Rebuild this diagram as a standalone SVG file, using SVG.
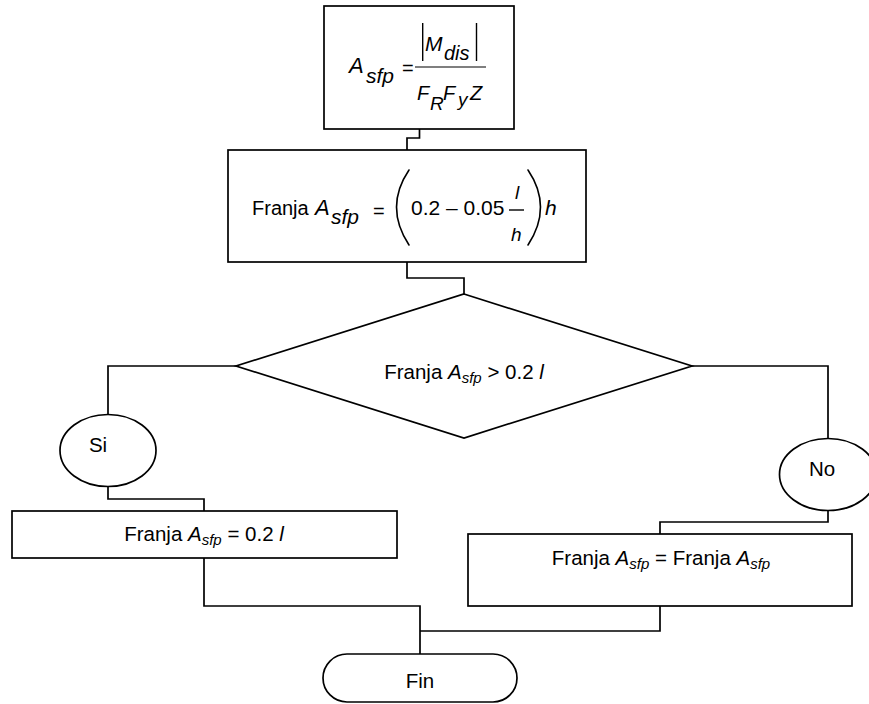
<svg xmlns="http://www.w3.org/2000/svg" width="869" height="704" viewBox="0 0 869 704">
  <style>
    .shape { fill: #ffffff; stroke: #000000; stroke-width: 1.7; }
    .wire { fill: none; stroke: #000000; stroke-width: 1.7; }
    .delim { fill: none; stroke: #000000; stroke-width: 1.4; }
    .paren { fill: none; stroke: #000000; stroke-width: 1.6; stroke-linecap: round; }
    .bar { fill: none; stroke: #7f7f7f; stroke-width: 2; }
    text { font-family: "Liberation Sans", Arial, sans-serif; fill: #000000; }
    .t { font-size: 20.5px; }
    .i { font-style: italic; }
    .sub { font-style: italic; font-size: 15px; }
  </style>

  <rect x="0" y="0" width="869" height="704" fill="#ffffff"/>

  <!-- connectors -->
  <g id="connectors">
    <path class="wire" d="M 419.5 129 V 138 H 407 V 150"/>
    <path class="wire" d="M 407 262 V 278 H 464 V 294"/>
    <path class="wire" d="M 236 366 H 108 V 414.5"/>
    <path class="wire" d="M 108 486.5 V 499 H 204 V 511"/>
    <path class="wire" d="M 204 558 V 606 H 420 V 654"/>
    <path class="wire" d="M 692 366 H 828 V 438.5"/>
    <path class="wire" d="M 828 510.5 V 522 H 660 V 534"/>
    <path class="wire" d="M 660 606 V 631 H 420"/>
  </g>

  <!-- A_sfp = |M_dis| / (F_R F_y Z) -->
  <g id="area-formula">
    <rect class="shape" x="324" y="6" width="190" height="123"/>
    <text class="i" x="349" y="73" font-size="22">A</text>
    <text class="i" x="366" y="83" font-size="21">sfp</text>
    <text x="402" y="75" font-size="20">=</text>
    <line class="bar" x1="415" y1="67" x2="486" y2="67"/>
    <line class="delim" x1="422.7" y1="23" x2="422.7" y2="61"/>
    <line class="delim" x1="476.5" y1="23" x2="476.5" y2="61"/>
    <text class="i" x="425" y="51" font-size="21">M</text>
    <text class="i" x="444" y="60" font-size="20">dis</text>
    <text class="i" x="417" y="100" font-size="20">F</text>
    <text class="i" x="430" y="110" font-size="19">R</text>
    <text class="i" x="443" y="100" font-size="20">F</text>
    <text class="i" x="458" y="106" font-size="19">y</text>
    <text class="i" x="470" y="100" font-size="20">Z</text>
  </g>

  <!-- Franja A_sfp = (0.2 - 0.05 l/h) h -->
  <g id="strip-formula">
    <rect class="shape" x="228" y="150" width="358" height="112"/>
    <text x="252" y="215" font-size="20">Franja</text>
    <text class="i" x="315" y="215" font-size="22">A</text>
    <text class="i" x="331" y="223.5" font-size="21">sfp</text>
    <text x="373" y="218" font-size="20">=</text>
    <path class="paren" d="M 409 170 Q 384 207 409 245"/>
    <text x="411" y="215" font-size="21">0.2 – 0.05</text>
    <line class="delim" x1="509" y1="210" x2="524" y2="210"/>
    <text class="i" x="515" y="199" font-size="19">l</text>
    <text class="i" x="511" y="241" font-size="19">h</text>
    <path class="paren" d="M 528 170 Q 553 207 528 245"/>
    <text class="i" x="545" y="215" font-size="21">h</text>
  </g>

  <!-- decision -->
  <g id="decision">
    <polygon class="shape" points="464,294 692,366 464,438 236,366"/>
    <text class="t" x="464" y="379" text-anchor="middle">Franja <tspan class="i">A</tspan><tspan class="sub" dy="4">sfp</tspan><tspan dy="-4"> &gt; 0.2 </tspan><tspan class="i">l</tspan></text>
  </g>

  <g id="yes">
    <ellipse class="shape" cx="108" cy="450.5" rx="48" ry="36"/>
    <text class="t" x="98" y="452" text-anchor="middle">Si</text>
  </g>

  <g id="no">
    <ellipse class="shape" cx="828" cy="474.5" rx="48.5" ry="36"/>
    <text class="t" x="822" y="476" text-anchor="middle">No</text>
  </g>

  <g id="strip-min">
    <rect class="shape" x="12" y="511" width="385" height="47"/>
    <text class="t" x="204" y="541" text-anchor="middle">Franja <tspan class="i">A</tspan><tspan class="sub" dy="4">sfp</tspan><tspan dy="-4"> = 0.2 </tspan><tspan class="i">l</tspan></text>
  </g>

  <g id="strip-keep">
    <rect class="shape" x="468" y="534" width="384" height="72"/>
    <text class="t" x="661" y="565" text-anchor="middle">Franja <tspan class="i">A</tspan><tspan class="sub" dy="4">sfp</tspan><tspan dy="-4"> = Franja </tspan><tspan class="i">A</tspan><tspan class="sub" dy="4">sfp</tspan></text>
  </g>

  <g id="end">
    <rect class="shape" x="323" y="654" width="194" height="48" rx="24" ry="24"/>
    <text class="t" x="420" y="688" text-anchor="middle">Fin</text>
  </g>
</svg>
